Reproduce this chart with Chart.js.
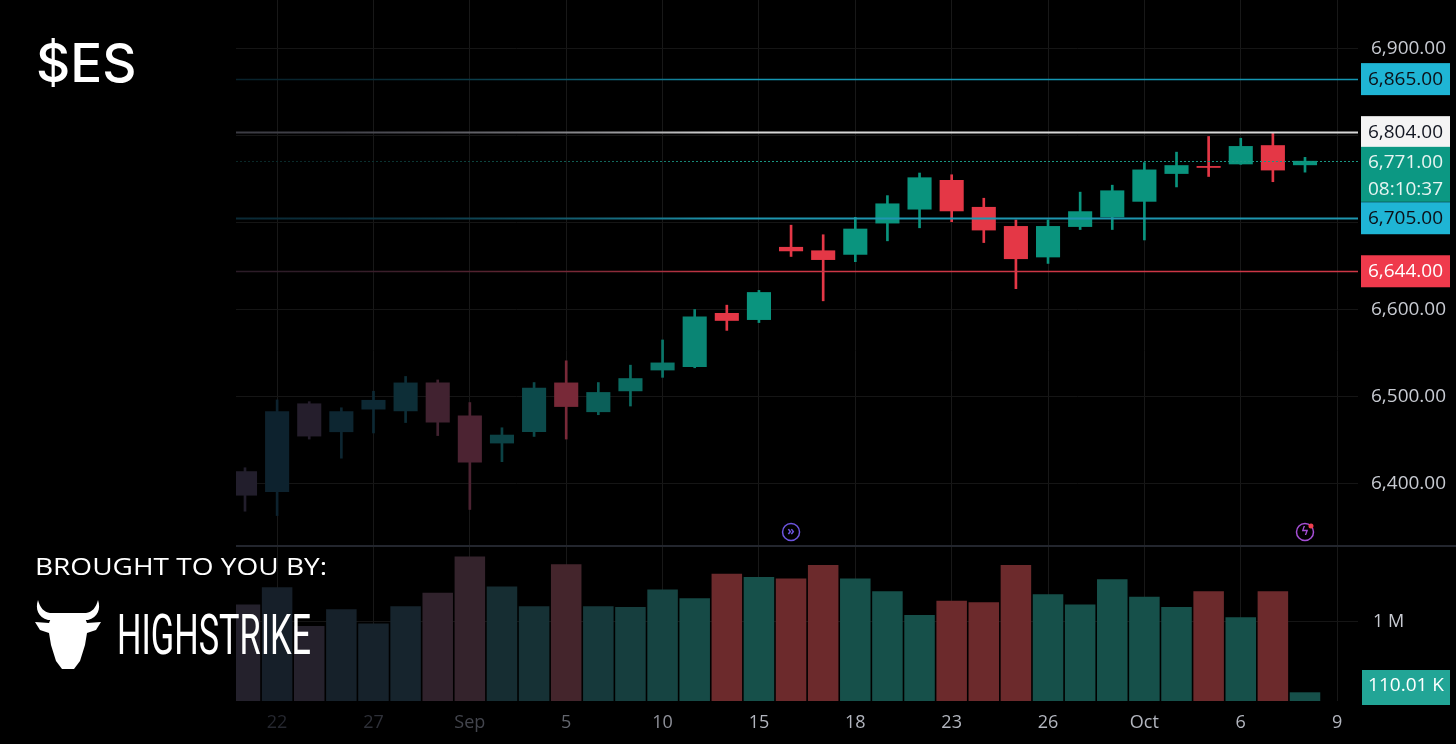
<!DOCTYPE html>
<html>
<head>
<meta charset="utf-8">
<title>$ES</title>
<script src="https://cdn.jsdelivr.net/npm/chart.js@4.4.1/dist/chart.umd.min.js"></script>
<style>
  html, body { margin: 0; padding: 0; background: #000; overflow: hidden; }
  #wrap { position: relative; width: 1456px; height: 744px; }
  #wrap canvas { position: absolute; left: 0; top: 0; }
  #ticker { position: absolute; left: 36px; top: 36px; color: #fff; font: 500 53px Inter, sans-serif; line-height: 54px; white-space: nowrap; }
  #brought { position: absolute; left: 35px; top: 551px; color: #fff; font: 400 24px "Open Sans", sans-serif; line-height: 30px; white-space: nowrap; transform-origin: 0 0; }
  #brand { position: absolute; left: 117px; top: 600px; color: #fff; font: 400 55px "Liberation Sans Narrow", Roboto, sans-serif; line-height: 70px; white-space: nowrap; transform-origin: 0 0; }
  #bull { position: absolute; left: 35px; top: 600px; width: 66px; height: 70px; }
</style>
</head>
<body>
<div id="wrap">
  <canvas id="esChart"></canvas>
  <div id="ticker">$ES</div>
  <div id="brought">BROUGHT TO YOU BY:</div>
  <svg id="bull" viewBox="0 0 66 70">
    <path fill="#fff" d="M3 0 C0 9 3 17 13 20 L53 20 C63 17 66 9 63 0 C61 8 57 12 51 13 L15 13 C9 12 5 8 3 0 Z"/>
    <path fill="#fff" d="M0 22 L14 23 L16 18 L50 18 L52 23 L66 22 L61 30 L52 33 L50 45 L45 61 L39 69 L27 69 L21 61 L16 45 L14 33 L5 30 Z"/>
  </svg>
  <div id="brand">HIGHSTRIKE</div>
</div>
<script>
// daily candles, ES futures
const dates = ['2025-08-21','2025-08-22','2025-08-25','2025-08-26','2025-08-27','2025-08-28','2025-08-29',
  '2025-09-02','2025-09-03','2025-09-04','2025-09-05','2025-09-08','2025-09-09','2025-09-10','2025-09-11',
  '2025-09-12','2025-09-15','2025-09-16','2025-09-17','2025-09-18','2025-09-19','2025-09-22','2025-09-23',
  '2025-09-24','2025-09-25','2025-09-26','2025-09-29','2025-09-30','2025-10-01','2025-10-02','2025-10-03',
  '2025-10-06','2025-10-07','2025-10-08'];
const futureDates = ['2025-10-09'];

const opens  = [6414,6390,6492,6459,6485,6483,6516,6478,6446,6459,6516,6482,6506,6530,6534,6596,6588,6672,6668,6663,6699,6715,6749,6718,6696,6660,6695,6706,6724,6756,6765,6767,6789,6766];
const highs  = [6418,6496,6494,6487,6506,6523,6519,6493,6464,6516,6541,6516,6536,6565,6600,6605,6622,6697,6686,6706,6731,6757,6755,6728,6703,6703,6735,6743,6769,6781,6799,6797,6803,6775];
const lows   = [6368,6363,6451,6429,6458,6470,6455,6370,6425,6454,6451,6479,6489,6522,6533,6576,6585,6661,6610,6655,6679,6694,6701,6677,6624,6653,6692,6692,6680,6741,6753,6767,6747,6758];
const closes = [6386,6483,6454,6483,6496,6516,6470,6424,6456,6510,6488,6505,6521,6539,6592,6587,6620,6667,6657,6693,6722,6752,6713,6691,6658,6696,6713,6737,6761,6766,6763,6788,6760,6771];
const volumes = [1220000,1440000,950000,1160000,980000,1200000,1370000,1830000,1450000,1200000,1730000,1200000,
  1190000,1410000,1300000,1610000,1570000,1550000,1720000,1550000,1390000,1090000,1270000,1250000,1720000,
  1350000,1220000,1540000,1320000,1190000,1390000,1060000,1390000,110010];

const tickDates = ['2025-08-22','2025-08-27','2025-09-02','2025-09-05','2025-09-10','2025-09-15','2025-09-18','2025-09-23','2025-09-26','2025-10-01','2025-10-06','2025-10-09'];
const tickText  = ['22','27','Sep','5','10','15','18','23','26','Oct','6','9'];

const levels = [6865, 6804, 6705, 6644];
const lastPrice = 6771;
const countdown = '08:10:37';
const eventDates = ['2025-09-16', '2025-10-08'];

// styles
const levelStyle = [
  { line: [20, 150, 178], dim: [8, 34, 44], box: '#1fb5d5', text: '#0c0f16', w: 1.5 },
  { line: [215, 215, 215], dim: [60, 60, 68], box: '#f4f4f4', text: '#131722', w: 2 },
  { line: [30, 150, 175], dim: [10, 42, 54], box: '#1fb5d5', text: '#0c0f16', w: 2 },
  { line: [205, 55, 70], dim: [44, 28, 40], box: '#ef3a4c', text: '#ffffff', w: 1.5 }
];
const UP = [10, 148, 126], DOWN = [228, 55, 70];
const UP_DIM = [13, 33, 46], DOWN_DIM = [34, 30, 44];
const VUP = [22, 80, 74], VDOWN = [108, 42, 44];
const VUP_DIM = [22, 31, 41], VDOWN_DIM = [36, 33, 44];
const FONT = '"Open Sans", sans-serif';

const allDates = dates.concat(futureDates);
const tickIdx = tickDates.map(d => allDates.indexOf(d));

function fade(i) {
  const t = Math.min(1, Math.max(0, i / 15));
  return t * t;
}
function mix(a, b, t) {
  return 'rgb(' + a.map((v, k) => Math.round(v + (b[k] - v) * t)).join(',') + ')';
}
function isUp(i) { return closes[i] >= opens[i]; }
function candleColor(ctx) {
  const i = ctx.dataIndex;
  return isUp(i) ? mix(UP_DIM, UP, fade(i)) : mix(DOWN_DIM, DOWN, fade(i));
}
function volumeColor(ctx) {
  const i = ctx.dataIndex;
  return isUp(i) ? mix(VUP_DIM, VUP, fade(i)) : mix(VDOWN_DIM, VDOWN, fade(i));
}
function fmtPrice(v) {
  return v.toLocaleString('en-US', { minimumFractionDigits: 2, maximumFractionDigits: 2 });
}
// no edge padding for tick labels, the panes fill the canvas
function noPad(s) {
  s.paddingTop = 0; s.paddingBottom = 0; s.paddingLeft = 0; s.paddingRight = 0;
}

// horizontal gradient that follows the same left fade as the candles
function fadeStroke(ctx, x, dim, full) {
  const x0 = x.getPixelForValue(0), x1 = x.getPixelForValue(15);
  const g = ctx.createLinearGradient(x0, 0, x1, 0);
  for (let s = 0; s <= 5; s++) {
    const t = s / 5;
    g.addColorStop(t, mix(dim, full, t * t));
  }
  return g;
}

function box(ctx, left, top, w, h, fill, textColor, lines) {
  ctx.fillStyle = fill;
  ctx.fillRect(left, top, w, h);
  ctx.fillStyle = textColor;
  ctx.font = '19px ' + FONT;
  ctx.textAlign = 'center';
  ctx.textBaseline = 'middle';
  lines.forEach((s, k) => ctx.fillText(s, left + w / 2, top + 16 + k * 27));
}

const overlayPlugin = {
  id: 'overlay',
  afterDatasetsDraw(chart) {
    const { ctx, chartArea: a, scales } = chart;
    const y = scales.y, x = scales.x;
    ctx.save();
    levels.forEach((v, k) => {
      const py = Math.round(y.getPixelForValue(v)) + 0.5;
      ctx.strokeStyle = fadeStroke(ctx, x, levelStyle[k].dim, levelStyle[k].line);
      ctx.lineWidth = levelStyle[k].w;
      ctx.beginPath();
      ctx.moveTo(a.left, py);
      ctx.lineTo(a.right, py);
      ctx.stroke();
    });
    // last price dotted line
    const lp = Math.round(y.getPixelForValue(lastPrice)) + 0.5;
    ctx.setLineDash([2, 2]);
    ctx.lineWidth = 1;
    ctx.strokeStyle = fadeStroke(ctx, x, [10, 40, 40], [25, 150, 130]);
    ctx.beginPath();
    ctx.moveTo(a.left, lp);
    ctx.lineTo(a.right, lp);
    ctx.stroke();
    ctx.restore();
  },
  afterDraw(chart) {
    const { ctx, chartArea: a, scales } = chart;
    const y = scales.y, yv = scales.yv, x = scales.x;
    ctx.save();
    // pane separator
    ctx.fillStyle = '#23262e';
    ctx.fillRect(a.left, Math.round(y.bottom) - 1, chart.width - a.left, 2);

    const bx = a.right + 3, bw = 89;
    levels.forEach((v, k) => {
      const py = y.getPixelForValue(v);
      box(ctx, bx, py - 16, bw, 32, levelStyle[k].box, levelStyle[k].text, [fmtPrice(v)]);
    });
    const lp = y.getPixelForValue(lastPrice);
    box(ctx, bx, lp - 14, bw, 55, '#0c9883', '#e6f4f1', [fmtPrice(lastPrice), countdown]);

    // current volume box
    const lastVol = volumes[volumes.length - 1];
    const vy = Math.min(yv.getPixelForValue(lastVol), yv.bottom - 14);
    box(ctx, bx + 1, vy - 17, bw - 1, 35, '#22a596', '#ffffff', [(lastVol / 1000).toFixed(2) + ' K']);

    // event markers
    const ey = y.bottom - 14;
    eventDates.forEach((d, k) => {
      const ex = x.getPixelForValue(allDates.indexOf(d));
      ctx.lineWidth = 1.5;
      ctx.strokeStyle = k === 0 ? '#6d55e0' : '#a64fd6';
      ctx.beginPath();
      ctx.arc(ex, ey, 8.5, 0, Math.PI * 2);
      ctx.stroke();
      ctx.fillStyle = ctx.strokeStyle;
      ctx.font = 'bold 12px ' + FONT;
      ctx.textAlign = 'center';
      ctx.textBaseline = 'middle';
      ctx.fillText(k === 0 ? '\u00bb' : '\u03df', ex, ey);
      if (k === 1) {
        ctx.fillStyle = '#f04050';
        ctx.beginPath();
        ctx.arc(ex + 6, ey - 6, 2.5, 0, Math.PI * 2);
        ctx.fill();
      }
    });
    ctx.restore();
  }
};

const wickData = dates.map((d, i) => ({ x: i, y: [lows[i], highs[i]] }));
const bodyData = dates.map((d, i) => ({ x: i, y: [opens[i], closes[i]] }));
const volData = dates.map((d, i) => ({ x: i, y: volumes[i] }));

new Chart(document.getElementById('esChart'), {
  type: 'bar',
  data: {
    datasets: [
      {
        label: 'Body', data: bodyData, yAxisID: 'y', grouped: false, order: 0,
        backgroundColor: candleColor, barPercentage: 0.75, categoryPercentage: 1,
        minBarLength: 1, borderSkipped: false
      },
      {
        label: 'Wick', data: wickData, yAxisID: 'y', grouped: false, order: 1,
        backgroundColor: candleColor, barThickness: 2, borderSkipped: false
      },
      {
        label: 'Volume', data: volData, yAxisID: 'yv', grouped: false, order: 2,
        backgroundColor: volumeColor, barPercentage: 0.95, categoryPercentage: 1
      }
    ]
  },
  options: {
    responsive: true,
    maintainAspectRatio: false,
    animation: false,
    layout: { padding: { left: 236, top: 0, right: 0, bottom: 0 } },
    plugins: { legend: { display: false }, tooltip: { enabled: false } },
    scales: {
      x: {
        type: 'linear', min: -0.28, max: 34.65, offset: false,
        grid: { color: '#181818', drawTicks: false, offset: false },
        border: { display: false },
        afterBuildTicks: s => { s.ticks = tickIdx.map(v => ({ value: v })); },
        afterFit: s => { s.height = 43; noPad(s); },
        ticks: {
          autoSkip: false, maxRotation: 0, padding: 11,
          font: { family: FONT, size: 18 },
          color: ctx => mix([36, 38, 46], [178, 181, 190], fade(ctx.tick.value)),
          callback: v => tickText[tickIdx.indexOf(v)]
        }
      },
      y: {
        type: 'linear', position: 'right', stack: 'pane', stackWeight: 546,
        min: 6328, max: 6956,
        grid: { color: '#151515', drawTicks: false },
        border: { display: false },
        afterBuildTicks: s => { s.ticks = s.ticks.filter(t => t.value % 100 === 0); },
        afterFit: s => { s.width = 98; noPad(s); },
        ticks: {
          stepSize: 100, padding: 13, color: '#c7cad1',
          font: { family: FONT, size: 19 },
          callback: v => fmtPrice(v)
        }
      },
      yv: {
        type: 'linear', position: 'right', stack: 'pane', stackWeight: 155,
        min: 0, max: 1962000,
        grid: { color: '#151515', drawTicks: false },
        border: { display: false },
        afterBuildTicks: s => { s.ticks = [{ value: 1000000 }]; },
        afterFit: s => { s.width = 98; noPad(s); },
        ticks: {
          padding: 15, color: '#c7cad1',
          font: { family: FONT, size: 18 },
          callback: v => (v / 1000000) + ' M'
        }
      }
    }
  },
  plugins: [overlayPlugin]
});

// squeeze the branding text to the width it has in the artwork
function fitWidth(id, target) {
  const el = document.getElementById(id);
  const w = el.getBoundingClientRect().width;
  if (w > 0) el.style.transform = 'scaleX(' + (target / w) + ')';
}
fitWidth('brought', 292);
fitWidth('brand', 194);
</script>
</body>
</html>
